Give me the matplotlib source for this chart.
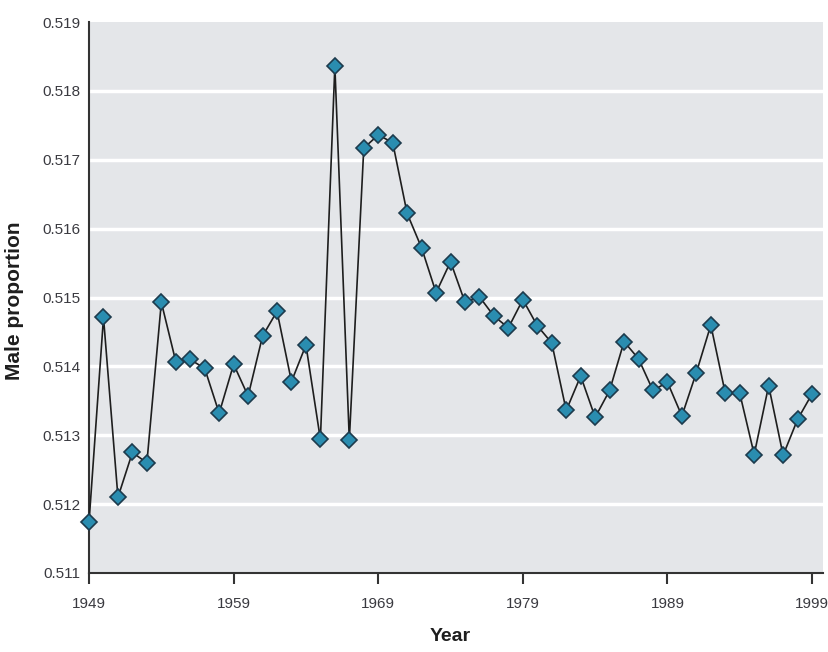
import matplotlib.pyplot as plt

years = list(range(1949, 2000))
male_prop = [
    0.51174, 0.51471, 0.51210, 0.51275, 0.51260, 0.51493, 0.51407, 0.51410,
    0.51397, 0.51332, 0.51403, 0.51357, 0.51444, 0.51480, 0.51378, 0.51431,
    0.51294, 0.51836, 0.51293, 0.51717, 0.51736, 0.51725, 0.51622, 0.51572,
    0.51507, 0.51552, 0.51493, 0.51501, 0.51473, 0.51456, 0.51497, 0.51459,
    0.51434, 0.51336, 0.51386, 0.51326, 0.51365, 0.51436, 0.51411, 0.51365,
    0.51377, 0.51328, 0.51391, 0.51460, 0.51361, 0.51361, 0.51272, 0.51372,
    0.51271, 0.51323, 0.51360,
]
xticks = [1949, 1959, 1969, 1979, 1989, 1999]
yticks = [0.511, 0.512, 0.513, 0.514, 0.515, 0.516, 0.517, 0.518, 0.519]

plt.rcParams['font.family'] = ['Liberation Sans', 'DejaVu Sans']

fig = plt.figure(figsize=(8.29, 6.52), dpi=100)
ax = fig.add_axes([0.1074, 0.1212, 0.8854, 0.845])
ax.set_facecolor('#e4e6e9')

ax.plot(years, male_prop, color='#1e1e1e', lw=1.2, marker='D', ms=8,
        markerfacecolor='#2a8db0', markeredgecolor='#1d3b4d', markeredgewidth=1.2,
        zorder=3, clip_on=False)

ax.set_xlim(1949, 1999.76)
ax.set_ylim(0.511, 0.519)
ax.set_yticks(yticks)
ax.set_yticklabels([f"{v:.3f}" for v in yticks])
ax.set_xticks(xticks)

for y in yticks[1:-1]:
    ax.axhline(y, color='white', lw=2.5, zorder=1)

for s in ['top', 'right']:
    ax.spines[s].set_visible(False)
for s in ['left', 'bottom']:
    ax.spines[s].set_color('#333333')
    ax.spines[s].set_linewidth(1.5)

ax.tick_params(axis='y', length=0, pad=6, labelsize=11, labelcolor='#3a3a40')
ax.tick_params(axis='x', length=8, width=1.5, color='#333333', pad=9,
               labelsize=11, labelcolor='#3a3a40')

ax.set_xlabel('Year', fontsize=14, fontweight='bold', color='#1e1e1e')
ax.xaxis.set_label_coords(0.492, -0.1)
ax.set_ylabel('Male proportion', fontsize=15, fontweight='bold', color='#1e1e1e')
ax.yaxis.set_label_coords(-0.088, 0.495)

fig.savefig('out.png', dpi=100)
